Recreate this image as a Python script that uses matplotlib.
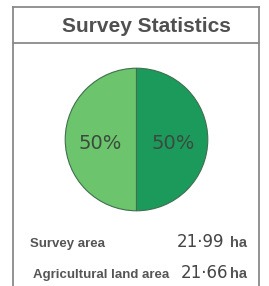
import matplotlib.pyplot as plt
from matplotlib.lines import Line2D

# === Data ===
title = "Survey Statistics"
shares = [50, 50]
share_colors = ["#6cc46c", "#1c9a5c"]
stat_labels = ["Survey area", "Agricultural land area"]
stat_values = ["21·99", "21·66"]
stat_units = ["ha", "ha"]

W, H = 269, 286


def fx(x):
    return x / W


def fy(y):
    return 1 - y / H


fig = plt.figure(figsize=(W / 100, H / 100), dpi=100)
fig.patch.set_facecolor("white")

# === Frame ===
box_col = "#8a8a8a"
for xs, ys in [([13, 13], [7, 290]), ([259, 259], [7, 290]), ([13, 259], [7, 7]), ([13, 259], [43, 43])]:
    fig.add_artist(Line2D([fx(x) for x in xs], [fy(y) for y in ys], color=box_col, lw=1.3))

fig.text(fx(146), fy(32), title, ha="center", va="baseline", fontsize=15,
         fontweight="bold", color="#505050", family="Liberation Sans")

# === Pie ===
cx, cy, r = 136.5, 139.5, 72
ax = fig.add_axes([fx(cx - r), fy(cy + r), 2 * r / W, 2 * r / H])
wedges, texts, autotexts = ax.pie(
    shares, colors=share_colors, startangle=90, counterclock=True,
    autopct="%d%%", pctdistance=0.51,
    wedgeprops=dict(edgecolor="#3f6f4f", linewidth=0.8),
    textprops=dict(fontsize=14, color="#3a4a3e", family="DejaVu Sans"))
for t in autotexts:
    px, py = t.get_position()
    t.set_position((px, py - 0.06))
ax.set_xlim(-1.01, 1.01)
ax.set_ylim(-1.01, 1.01)
ax.set_aspect("auto")

# === Statistics ===
rows_y = [247, 278]
label_x = [30, 33]
val_x = [224, 228]
for i in range(len(stat_labels)):
    fig.text(fx(label_x[i]), fy(rows_y[i]), stat_labels[i], ha="left", va="baseline",
             fontsize=9.5, fontweight="bold", color="#555555", family="Liberation Sans")
    fig.text(fx(val_x[i]), fy(rows_y[i]), stat_values[i], ha="right", va="baseline",
             fontsize=12, color="#454545", family="DejaVu Sans")
    fig.text(fx(247), fy(rows_y[i]), stat_units[i], ha="right", va="baseline",
             fontsize=10.5, fontweight="bold", color="#555555", family="Liberation Sans")

fig.savefig("out.png", dpi=100)
